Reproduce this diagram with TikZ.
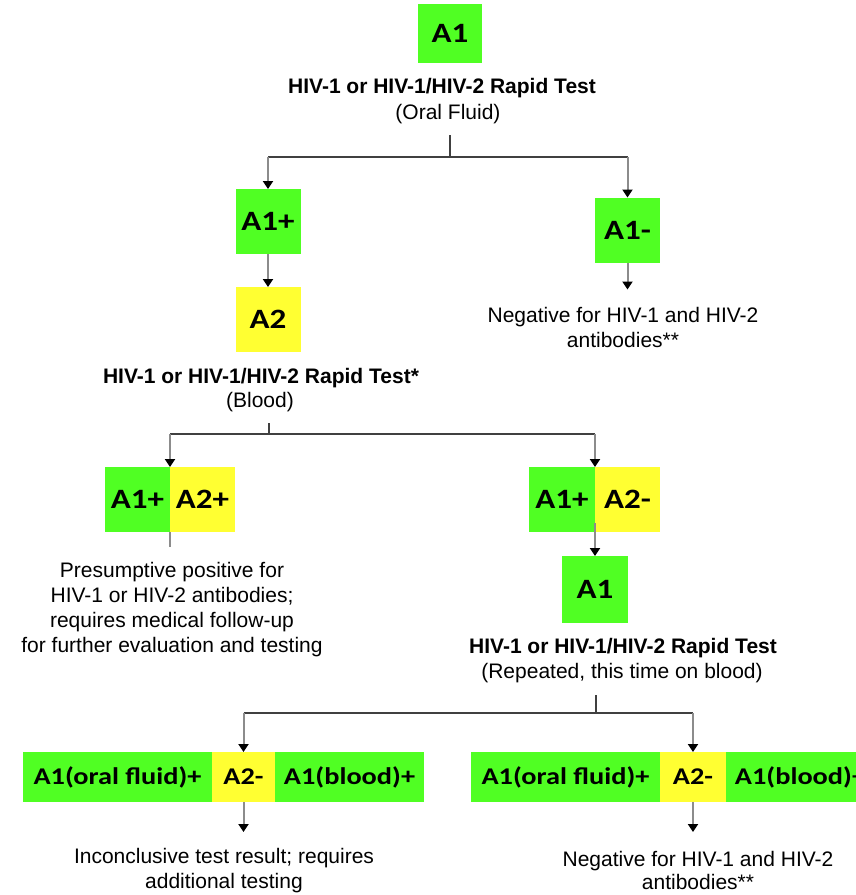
\documentclass[tikz,border=0pt]{standalone}
\usepackage{fontspec}
\setmainfont{Liberation Sans}
\newfontfamily\boxfont[FakeStretch=1.18]{Carlito}
\usetikzlibrary{positioning}
\usetikzlibrary{arrows.meta}
\definecolor{resgreen}{RGB}{80,255,35}
\definecolor{resyellow}{RGB}{255,255,50}
\tikzset{
        res/.style={inner sep=0pt, outer sep=0pt, minimum width=65pt, minimum height=65pt,
            font=\boxfont\bfseries\fontsize{28}{32}\selectfont},
        % Green result boxes
        res_green/.style={res, fill=resgreen},
        % Yellow result boxes
        res_yellow/.style={res, fill=resyellow},
        % Wide result strips at the bottom
        strip/.style={inner sep=0pt, outer sep=0pt, minimum height=50pt,
            font=\boxfont\bfseries\fontsize{24}{28}\selectfont},
        % Test names and outcome texts
        test_name/.style={align=center, font=\bfseries\fontsize{21}{25}\selectfont},
        outcome/.style={align=center, font=\fontsize{21}{25}\selectfont},
        % Connectors
        branch/.style={draw=black!75, line width=1.4pt},
        drop/.style={draw=black!45, line width=2pt, -{Triangle[width=10pt,length=8pt,color=black]}},
        stub/.style={draw=black!45, line width=2pt}
}
\begin{document}
\begin{tikzpicture}[x=1pt, y=-1pt]
    \useasboundingbox (0,0) rectangle (856,895);

    % first test, oral fluid
    \node[res_green, minimum width=64pt, minimum height=59pt] (a1) at (450,33.5) {A1};
    \node[test_name] (t1) at (442,88) {HIV-1 or HIV-1/HIV-2 Rapid Test};
    \node[outcome] (t1s) at (448,114) {(Oral Fluid)};
    \coordinate (s1) at (450,135);
    \coordinate (j1) at (450,157);

    \node[res_green] (pos1) at (268,221.5) {A1+};
    \node[res_yellow] (a2) at (268,319.5) {A2};
    \node[res_green] (neg1) at (627.5,230) {A1-};
    \coordinate[below=27pt of neg1.south] (neg1end);
    \node[outcome] (neg1txt) at (623,327.5) {Negative for HIV-1 and HIV-2\\antibodies**};

    \draw[branch] (s1) -- (j1);
    \draw[branch] (j1 -| pos1) -- (j1 -| neg1);
    \draw[drop] (j1 -| pos1) -- (pos1);
    \draw[drop] (j1 -| neg1) -- (neg1);
    \draw[drop] (pos1) -- (a2);
    \draw[drop] (neg1) -- (neg1end);

    % second test, blood
    \node[test_name] (t2) at (261,378) {HIV-1 or HIV-1/HIV-2 Rapid Test*};
    \node[outcome] (t2s) at (260,402) {(Blood)};
    \coordinate (s2) at (269,423);
    \coordinate (j2) at (269,434);

    \node[res_green] (pp_a1) at (137.5,499.5) {A1+};
    \node[res_yellow, right=0pt of pp_a1] (pp_a2) {A2+};
    \node[res_green, minimum width=66pt] (pn_a1) at (562,499.5) {A1+};
    \node[res_yellow, right=0pt of pn_a1] (pn_a2) {A2-};
    \coordinate[below=15pt of pp_a1.south east] (pp_end);

    \draw[branch] (s2) -- (j2);
    \draw[branch] (j2 -| pp_a1.east) -- (j2 -| pn_a1.east);
    \draw[drop] (j2 -| pp_a1.east) -- (pp_a1.north east);
    \draw[drop] (j2 -| pn_a1.east) -- (pn_a1.north east);
    \draw[stub] (pp_a1.south east) -- (pp_end);

    \node[outcome] (pp_txt) at (172,610) {Presumptive positive for\\HIV-1 or HIV-2 antibodies;\\requires medical follow-up\\for further evaluation and testing};

    % repeated test, blood
    \node[res_green, minimum width=66pt, minimum height=67pt] (rep) at (595,589.5) {A1};
    \draw[drop] ([yshift=9pt]pn_a1.south east) -- (rep);
    \node[test_name] (t3) at (623,648) {HIV-1 or HIV-1/HIV-2 Rapid Test};
    \node[outcome] (t3s) at (622,673) {(Repeated, this time on blood)};
    \coordinate (s3) at (596,695);
    \coordinate (j3) at (596,713);

    \node[strip, fill=resgreen, minimum width=189pt] (l_oral) at (117.5,777) {A1(oral fluid)+};
    \node[strip, fill=resyellow, minimum width=63pt, right=0pt of l_oral] (l_a2) {A2-};
    \node[strip, fill=resgreen, minimum width=149pt, right=0pt of l_a2] (l_blood) {A1(blood)+};
    \node[strip, fill=resgreen, minimum width=189pt] (r_oral) at (565.5,777) {A1(oral fluid)+};
    \node[strip, fill=resyellow, minimum width=66pt, right=0pt of r_oral] (r_a2) {A2-};
    \node[strip, fill=resgreen, minimum width=149pt, right=0pt of r_a2] (r_blood) {A1(blood)+};
    \coordinate[below=30pt of l_a2.south] (l_end);
    \coordinate[below=30pt of r_a2.south] (r_end);

    \draw[branch] (s3) -- (j3);
    \draw[branch] (j3 -| l_a2) -- (j3 -| r_a2);
    \draw[drop] (j3 -| l_a2) -- (l_a2);
    \draw[drop] (j3 -| r_a2) -- (r_a2);
    \draw[drop] (l_a2) -- (l_end);
    \draw[drop] (r_a2) -- (r_end);

    \node[outcome] (l_txt) at (224,871) {Inconclusive test result; requires\\additional testing};
    \node[outcome, font=\fontsize{21}{23}\selectfont] (r_txt) at (698,870) {Negative for HIV-1 and HIV-2\\antibodies**};
\end{tikzpicture}
\end{document}
